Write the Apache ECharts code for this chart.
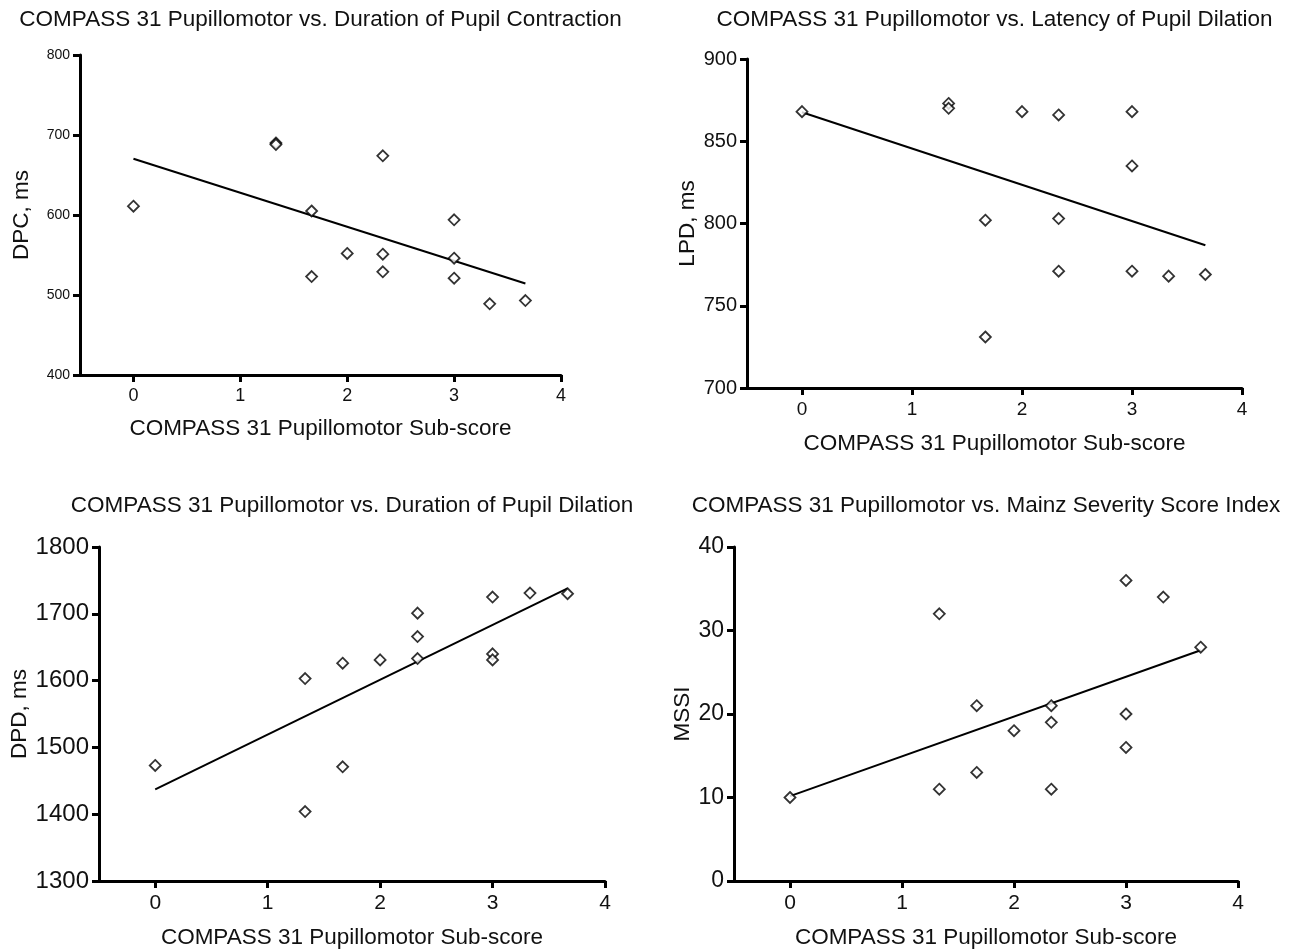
<!DOCTYPE html>
<html>
<head>
<meta charset="utf-8">
<script src="https://cdn.jsdelivr.net/npm/echarts@6/dist/echarts.min.js"></script>
<style>
html,body{margin:0;padding:0;background:#fff;}
#c{width:1300px;height:950px;}
</style>
</head>
<body>
<div id="c"></div>
<script>
// ---- data ----
const xTicks = [0, 1, 2, 3, 4];
const xScore = [0, 1.333, 1.333, 1.667, 1.667, 2, 2.333, 2.333, 2.333, 3, 3, 3, 3.333, 3.667];
const xScoreDPD = [0, 1.333, 1.333, 1.667, 1.667, 2, 2.333, 2.333, 2.333, 3, 3, 3, 3.333, 3.667];
const yDPC = [611, 690, 688, 605, 523, 552, 674, 551, 529, 594, 546, 521, 489, 493];
const yLPD = [868, 873, 870, 802, 731, 868, 866, 803, 771, 868, 835, 771, 768, 769];
const yDPD = [1473, 1603, 1404, 1626, 1471, 1631, 1701, 1666, 1633, 1725, 1640, 1631, 1731, 1730];
const yMSSI = [10, 32, 11, 21, 13, 18, 21, 19, 11, 36, 20, 16, 34, 28];

const titles = [
  'COMPASS 31 Pupillomotor vs. Duration of Pupil Contraction',
  'COMPASS 31 Pupillomotor vs. Latency of Pupil Dilation',
  'COMPASS 31 Pupillomotor vs. Duration of Pupil Dilation',
  'COMPASS 31 Pupillomotor vs. Mainz Severity Score Index'
];
const xName = 'COMPASS 31 Pupillomotor Sub-score';
const yNames = ['DPC, ms', 'LPD, ms', 'DPD, ms', 'MSSI'];
const yRanges = [[400, 800, 100], [700, 900, 50], [1300, 1800, 100], [0, 40, 10]];

// ---- layout ----
const FONT = '"Liberation Sans", Arial, Helvetica, sans-serif';
const grids = [
  {left: 80, top: 55, width: 481, height: 320},
  {left: 747, top: 59, width: 495, height: 329},
  {left: 99, top: 547, width: 506, height: 335},
  {left: 734, top: 547, width: 504, height: 335}
];
const titleY = [20, 20, 506, 506];
const yLabelSize = [14, 20, 24, 23];
const xLabelSize = [18, 19, 21, 21];
const yNameGap = [47, 47, 64, 40];
const xNameGap = [42, 44, 45, 45];
const NAME_SIZE = 22.5;

function pairs(xs, ys) { return xs.map((x, i) => [x, ys[i]]); }
function fit(xs, ys) {
  const n = xs.length;
  const mx = xs.reduce((a, b) => a + b, 0) / n;
  const my = ys.reduce((a, b) => a + b, 0) / n;
  let sxy = 0, sxx = 0;
  for (let i = 0; i < n; i++) { sxy += (xs[i] - mx) * (ys[i] - my); sxx += (xs[i] - mx) ** 2; }
  const b = sxy / sxx, a = my - b * mx;
  const x0 = Math.min(...xs), x1 = Math.max(...xs);
  return [[x0, a + b * x0], [x1, a + b * x1]];
}

const sets = [[xScore, yDPC], [xScore, yLPD], [xScoreDPD, yDPD], [xScore, yMSSI]];

const option = {
  backgroundColor: '#fff',
  animation: false,
  grid: grids.map(g => Object.assign({containLabel: false}, g)),
  xAxis: grids.map((g, i) => ({
    type: 'value', gridIndex: i, min: -0.5, max: 4,
    name: xName, nameLocation: 'middle', nameGap: xNameGap[i],
    nameTextStyle: {fontFamily: FONT, fontSize: NAME_SIZE, color: '#111'},
    axisLine: {show: true, onZero: false, lineStyle: {color: '#000', width: 3}},
    axisTick: {show: true, length: 7, lineStyle: {color: '#000', width: 3}, customValues: xTicks},
    axisLabel: {fontFamily: FONT, fontSize: xLabelSize[i], color: '#111', margin: 12, customValues: xTicks},
    splitLine: {show: false}
  })),
  yAxis: grids.map((g, i) => ({
    type: 'value', gridIndex: i, min: yRanges[i][0], max: yRanges[i][1], interval: yRanges[i][2],
    name: yNames[i], nameLocation: 'middle', nameGap: yNameGap[i], nameRotate: 90,
    nameTextStyle: {fontFamily: FONT, fontSize: NAME_SIZE, color: '#111'},
    axisLine: {show: true, onZero: false, lineStyle: {color: '#000', width: 3}},
    axisTick: {show: true, length: 7, lineStyle: {color: '#000', width: 3}},
    axisLabel: {fontFamily: FONT, fontSize: yLabelSize[i], color: '#111', margin: 10, formatter: v => String(v)},
    splitLine: {show: false}
  })),
  graphic: grids.map((g, i) => ({
    type: 'text', x: g.left + g.width / 2, y: titleY[i],
    style: {text: titles[i], fontFamily: FONT, fontSize: NAME_SIZE, fill: '#111', align: 'center', verticalAlign: 'middle'}
  })),
  series: []
};

sets.forEach((s, i) => {
  option.series.push({
    type: 'line', xAxisIndex: i, yAxisIndex: i, data: fit(s[0], s[1]),
    showSymbol: false, symbol: 'none', lineStyle: {color: '#000', width: 2}, z: 2, silent: true
  });
  option.series.push({
    type: 'scatter', xAxisIndex: i, yAxisIndex: i, data: pairs(s[0], s[1]),
    symbol: 'diamond', symbolSize: 11,
    itemStyle: {color: '#fff', borderColor: '#000', borderWidth: 1.8}, z: 3
  });
});

const chart = echarts.init(document.getElementById('c'), null, {renderer: 'canvas'});
chart.setOption(option);
</script>
</body>
</html>
